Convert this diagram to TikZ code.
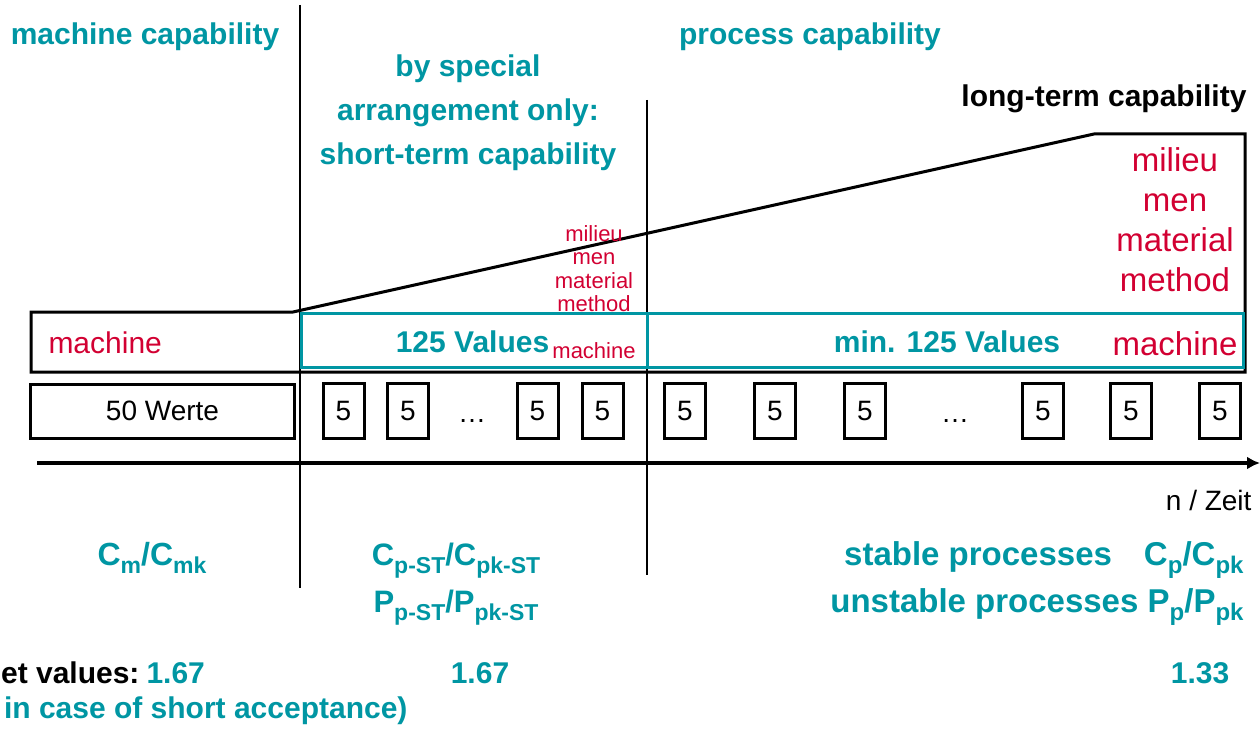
\documentclass[tikz,border=0pt]{standalone}
\usepackage{fontspec}
\setmainfont{Liberation Sans}
\usetikzlibrary{arrows.meta}
\tikzset{
    every picture/.style={
        line width=3pt
    },
    % Style for the teal headings and indices
    head label/.style={
        font=\bfseries\fontsize{30}{44}\selectfont,
        text=capTeal,
        align=center,
        inner sep=0pt
    },
    % Style for the influence factors
    factor label/.style={
        text=factorRed,
        align=center,
        inner sep=0pt
    },
    sample box/.style={
        draw,
        minimum width=41pt,
        minimum height=55pt,
        inner sep=0pt,
        font=\fontsize{28}{28}\selectfont
    }
}
\definecolor{capTeal}{RGB}{0,150,163}
\definecolor{factorRed}{RGB}{210,0,50}
\newcommand{\lowidx}[2][22]{\raisebox{-0.27em}{\fontsize{#1}{#1}\selectfont #2}}

\begin{document}
\begin{tikzpicture}[x=1pt,y=-1pt]

% Set the canvas size
\path[use as bounding box] (0,0) rectangle (1260,735);

% Phase separators
\draw[line width=2.6pt] (300,5) -- (300,588);
\draw[line width=2.6pt] (647,100) -- (647,575);

% Headings
\node[head label, anchor=base] (machcap) at (145,45) {machine capability};
\node[head label, anchor=base] (proccap) at (810,45) {process capability};
\node[head label, anchor=north] (shortcap) at (468,53)
    {by special\\arrangement only:\\short-term capability};
\node[head label, text=black, anchor=base east] (longcap) at (1248,107) {long-term capability};

% Growing set of influences
\draw (31,312) -- (293,312) -- (1094,134) -- (1245,134) -- (1245,372) -- (31,372) -- cycle;
\draw[capTeal] (301,313) rectangle (647,367);
\draw[capTeal] (647,313) rectangle (1243,367);

\node[factor label, font=\fontsize{30}{30}\selectfont, anchor=base west] (machL) at (47,353) {machine};
\node[factor label, font=\fontsize{22}{23.5}\selectfont, anchor=north] (factS) at (594,224)
    {milieu\\men\\material\\method};
\node[factor label, font=\fontsize{22}{22}\selectfont, anchor=base] (machS) at (594,358) {machine};
\node[factor label, font=\fontsize{33}{40}\selectfont, anchor=north] (factR) at (1175,146)
    {milieu\\men\\material\\method};
\node[factor label, font=\fontsize{33}{33}\selectfont, anchor=base] (machR) at (1175,355) {machine};

\node[head label, anchor=base] (val125) at (472.5,352) {125 Values};
\node[head label, anchor=base] (valmin) at (947,352) {min. 125 Values};

% Samples
\node[draw, minimum width=264pt, minimum height=54pt, inner sep=0pt,
      font=\fontsize{28}{28}\selectfont] (werte) at (162.5,411) {50 Werte};
\foreach \x/\n in {343.5/s1, 408/s2, 537.5/s3, 602.5/s4}
    \node[sample box] (\n) at (\x,411) {5};
\foreach \x/\n in {685/p1, 775/p2, 865/p3, 1043/p4, 1131/p5, 1220/p6}
    \node[sample box] (\n) at (\x,411) {5};
\node[font=\fontsize{28}{28}\selectfont, inner sep=0pt, anchor=base] (dotsS) at (472,422) {…};
\node[font=\fontsize{28}{28}\selectfont, inner sep=0pt, anchor=base] (dotsP) at (955,422) {…};

% Time axis
\coordinate (t0) at (37,463);
\coordinate (t1) at (1260,463);
\draw[line width=4.5pt, -{Latex[length=13pt,width=13pt]}] (t0) -- (t1);
\node[font=\fontsize{28}{28}\selectfont, inner sep=0pt, anchor=base east] (zeit) at (1253,510) {n / Zeit};

% Indices
\node[head label, font=\bfseries\fontsize{32}{32}\selectfont, anchor=base] (cm) at (152,565)
    {C\lowidx[23]{m}/C\lowidx[23]{mk}};
\node[head label, font=\bfseries\fontsize{31}{31}\selectfont, anchor=base] (cpst) at (456,565)
    {C\lowidx[23]{p-ST}/C\lowidx[23]{pk-ST}};
\node[head label, font=\bfseries\fontsize{31}{31}\selectfont, anchor=base] (ppst) at (456,612)
    {P\lowidx[23]{p-ST}/P\lowidx[23]{pk-ST}};
\node[head label, font=\bfseries\fontsize{33}{33}\selectfont, anchor=base east] (stable) at (1245,565)
    {stable processes\hspace{32pt}C\lowidx[24]{p}/C\lowidx[24]{pk}};
\node[head label, font=\bfseries\fontsize{33}{33}\selectfont, anchor=base east] (unstable) at (1245,612)
    {unstable processes P\lowidx[24]{p}/P\lowidx[24]{pk}};

% Target values
\node[head label, text=black, anchor=base east] (target) at (141,683) {et values:};
\node[head label, anchor=base west] (tv1) at (145,683) {1.67};
\node[head label, anchor=base] (tv2) at (480,683) {1.67};
\node[head label, anchor=base] (tv3) at (1200,683) {1.33};
\node[head label, anchor=base east] (shortacc) at (409,718) {in case of short acceptance)};

\end{tikzpicture}
\end{document}
